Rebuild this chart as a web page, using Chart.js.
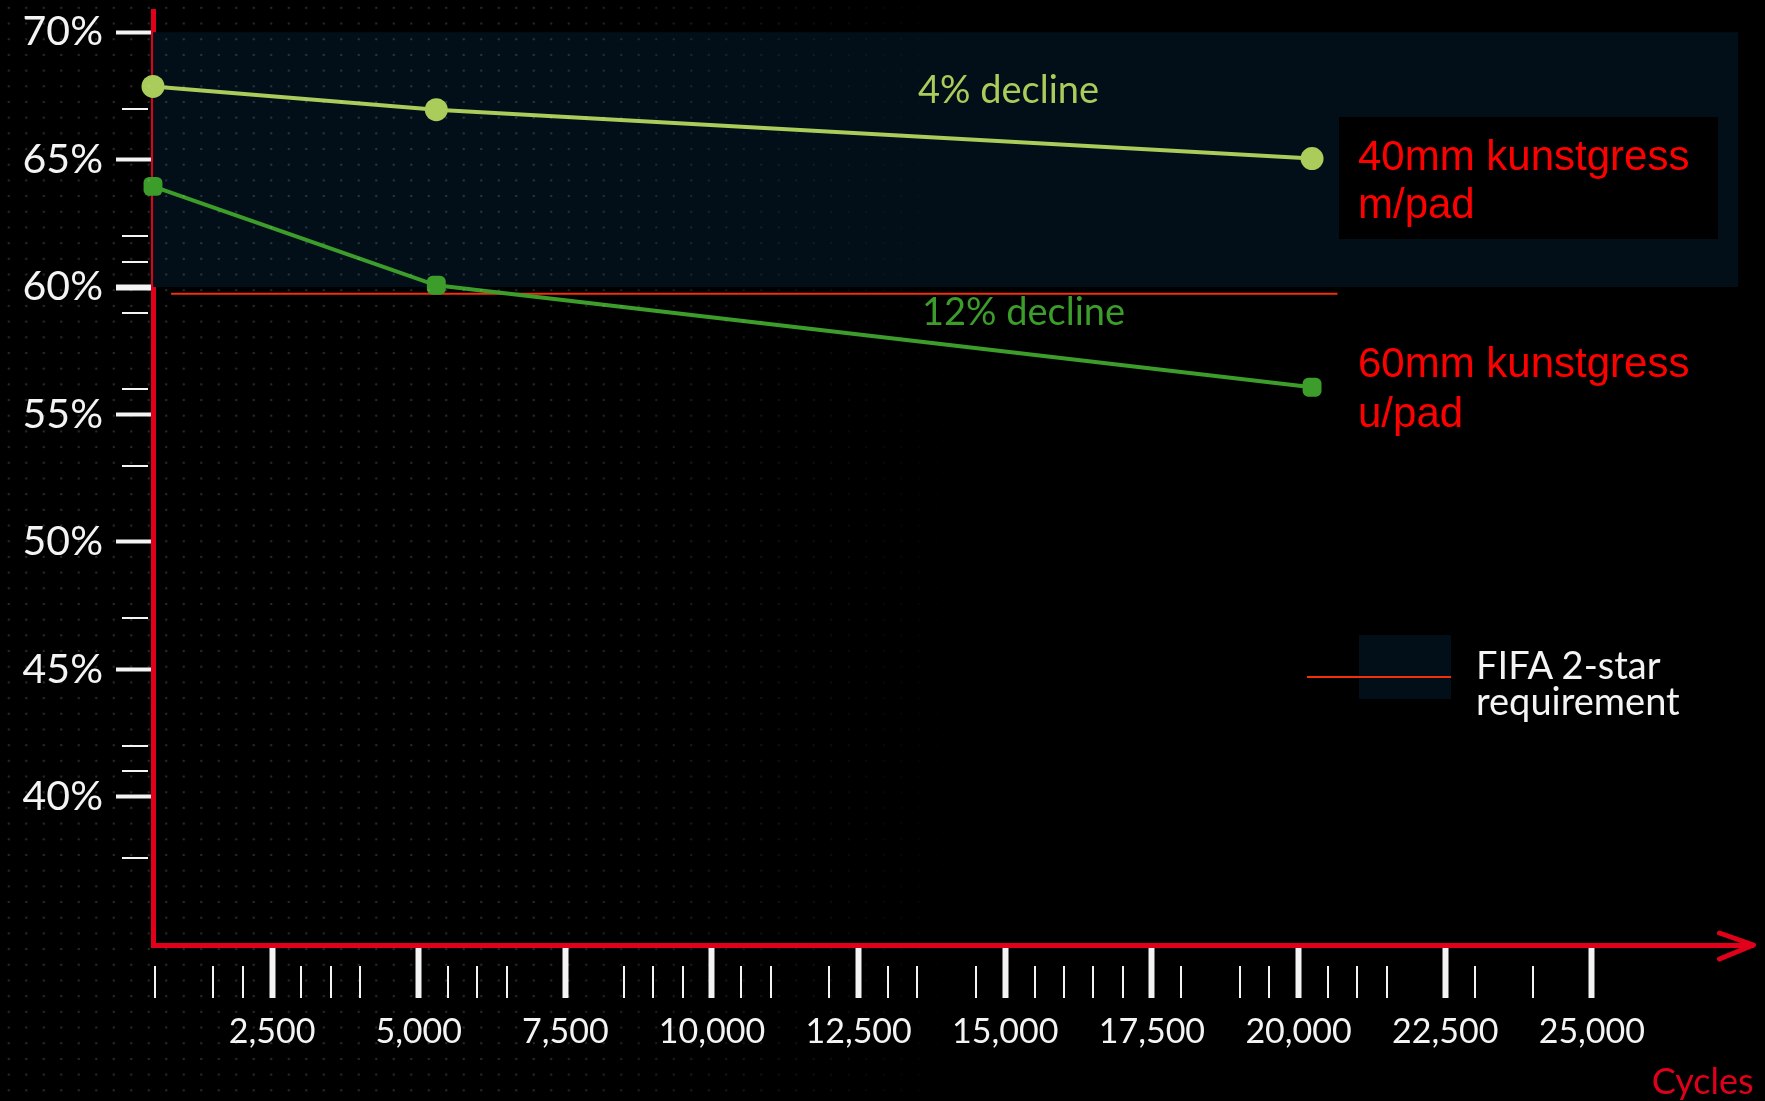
<!DOCTYPE html>
<html>
<head>
<meta charset="utf-8">
<script src="https://cdn.jsdelivr.net/npm/chart.js@4.4.1/dist/chart.umd.min.js"></script>
<style>
  html, body { margin: 0; padding: 0; background: #000; }
  #wrap { position: relative; width: 1765px; height: 1101px; overflow: hidden; background: #000; }
  #wrap canvas { position: absolute; left: 0; top: 0; }
  .dots {
    position: absolute; left: 0; top: 0; width: 100%; height: 100%; pointer-events: none;
    background-image: radial-gradient(circle, rgba(255,255,255,0.16) 1px, transparent 1.6px);
    background-size: 17.5px 15.7px;
    -webkit-mask-image: linear-gradient(to right, #000 0%, #000 30%, transparent 55%);
    mask-image: linear-gradient(to right, #000 0%, #000 30%, transparent 55%);
  }
  .note { position: absolute; white-space: nowrap; }
  .series { font-family: "Liberation Sans", Arial, sans-serif; font-size: 42px; color: #ff0000; }
  .gill { font-family: Lato, "Open Sans", sans-serif; }
</style>
</head>
<body>
<div id="wrap">
  <canvas id="chart" width="1765" height="1101"></canvas>
  <div class="dots"></div>

  <div class="note" style="left:1339px;top:117px;width:379px;height:122px;background:#000;"></div>
  <div class="note series" style="left:1358px;top:132px;line-height:48px;">40mm kunstgress<br>m/pad</div>
  <div class="note series" style="left:1358px;top:338px;line-height:50px;">60mm kunstgress<br>u/pad</div>

  <div class="note gill" style="left:918px;top:65px;font-size:38px;color:#a9cc5b;">4% decline</div>
  <div class="note gill" style="left:922px;top:287px;font-size:38px;color:#3c9d2b;">12% decline</div>

  <div class="note" style="left:1359px;top:635px;width:92px;height:64px;background:#020f18;"></div>
  <div class="note" style="left:1307px;top:676px;width:144px;height:2px;background:#f2300c;"></div>
  <div class="note gill" style="left:1476px;top:646px;font-size:38px;line-height:36px;color:#f4f4f4;">FIFA 2-star<br>requirement</div>
</div>

<script>
// values
const cycles = [470, 5300, 20230];
const pad40 = [67.87, 66.96, 65.04];   // 40mm kunstgress m/pad
const pad60 = [63.95, 60.07, 56.07];   // 60mm kunstgress u/pad

const fifaLevel = 59.74;
const fifaSpan = [779, 20663];

const bandTop = 70;
const bandBottom = 60;
const bandSpan = [470, 27500];

const xMajor = [2500, 5000, 7500, 10000, 12500, 15000, 17500, 20000, 22500, 25000];
const xMinor = [500, 1500, 2000, 3000, 3500, 4000, 5500, 6000, 6500, 8500, 9000, 9500,
    10500, 11000, 12000, 13000, 13500, 14500, 15500, 16000, 16500, 17000, 18000, 19000,
    19500, 20500, 21000, 21500, 23000, 24000];
const yMajor = [40, 45, 50, 55, 60, 65, 70];
const yMinor = [67, 62, 61, 59, 56, 53, 47, 42, 41, 37.6];

const RED = '#e1001a';
const WHITE = '#f4f4f4';
const LIGHT = '#a9cc5b';
const DARK = '#3c9d2b';

const pts = (xs, ys) => xs.map((x, i) => ({ x, y: ys[i] }));

// minor ticks + arrow head on the x axis
const extras = {
    id: 'extras',
    afterDraw(chart) {
        const { ctx, scales: { x, y } } = chart;
        ctx.save();
        ctx.strokeStyle = WHITE;
        ctx.lineWidth = 2;
        ctx.beginPath();
        yMinor.forEach(v => {
            const py = Math.round(y.getPixelForValue(v));
            ctx.moveTo(y.right - 31, py); ctx.lineTo(y.right - 5, py);
        });
        xMinor.forEach(v => {
            const px = Math.round(x.getPixelForValue(v));
            ctx.moveTo(px, x.top + 21); ctx.lineTo(px, x.top + 53);
        });
        ctx.stroke();

        const tx = x.right, ty = x.top;
        ctx.strokeStyle = RED;
        ctx.lineWidth = 5;
        ctx.lineCap = 'round';
        ctx.lineJoin = 'round';
        ctx.beginPath();
        ctx.moveTo(tx - 34, ty - 12); ctx.lineTo(tx, ty); ctx.lineTo(tx - 34, ty + 14);
        ctx.stroke();
        ctx.restore();
    }
};

new Chart(document.getElementById('chart'), {
    type: 'line',
    data: {
        datasets: [
            { data: pts(bandSpan, [bandTop, bandTop]), fill: { value: bandBottom }, backgroundColor: '#020f18',
              borderWidth: 0, pointRadius: 0, order: 10 },
            { data: pts(fifaSpan, [fifaLevel, fifaLevel]), borderColor: '#f2300c', borderWidth: 2,
              pointRadius: 0, fill: false, order: 5 },
            { label: '60mm kunstgress u/pad', data: pts(cycles, pad60), borderColor: DARK, backgroundColor: DARK,
              borderWidth: 4, pointStyle: 'rectRounded', pointRadius: 11, pointBorderWidth: 0,
              fill: false, clip: false, order: 2 },
            { label: '40mm kunstgress m/pad', data: pts(cycles, pad40), borderColor: LIGHT, backgroundColor: LIGHT,
              borderWidth: 4, pointRadius: 11.5, pointBorderWidth: 0, fill: false, clip: false, order: 1 }
        ]
    },
    options: {
        responsive: false, animation: false,
        layout: { padding: { top: 11, right: 11, left: 0, bottom: 0 } },
        plugins: { legend: { display: false }, tooltip: { enabled: false } },
        scales: {
            x: {
                type: 'linear', min: 470, max: 27756,
                afterBuildTicks: s => { s.ticks = xMajor.map(value => ({ value })); },
                afterFit: s => { s.height = 156; s.paddingLeft = 0; s.paddingRight = 0; },
                border: { color: RED, width: 5 },
                grid: { drawOnChartArea: false, tickLength: 53, tickWidth: 6, tickColor: WHITE },
                ticks: {
                    color: WHITE, font: { family: 'Lato', size: 34 }, padding: 14,
                    maxRotation: 0, autoSkip: false,
                    callback: v => v.toLocaleString('en-US')
                },
                title: { display: true, text: 'Cycles', align: 'end', color: RED,
                         font: { family: 'Lato', size: 36 }, padding: { top: 0, bottom: -3 } }
            },
            y: {
                type: 'linear', min: 34.19, max: 70.81,
                afterBuildTicks: s => { s.ticks = yMajor.map(value => ({ value })); },
                afterFit: s => { s.width = 153; s.paddingTop = 0; s.paddingBottom = 0; },
                border: { color: RED, width: 5 },
                grid: { drawOnChartArea: false, tickLength: 37, tickColor: WHITE,
                        tickWidth: c => (c.tick && c.tick.value === 60 ? 6 : 4) },
                ticks: {
                    color: WHITE, font: { family: 'Lato', size: 41 }, padding: 13,
                    callback: v => v + '%'
                }
            }
        }
    },
    plugins: [extras]
});
</script>
</body>
</html>
